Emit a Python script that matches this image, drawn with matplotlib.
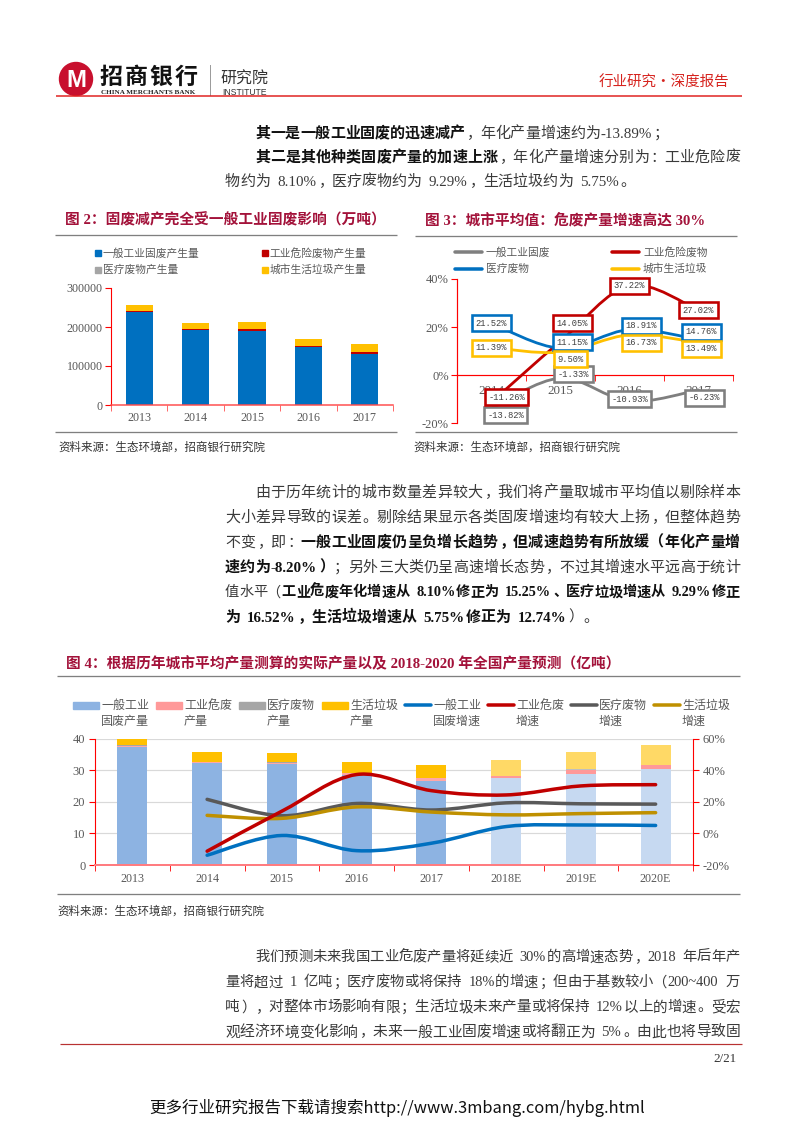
import numpy as np
import matplotlib
matplotlib.use('Agg')
import matplotlib.pyplot as plt
from matplotlib.path import Path
from matplotlib.patches import PathPatch, Rectangle, Circle

W, H, DPI = 793, 1122, 100
SERIF = ['Liberation Serif', 'Noto Sans CJK SC']
CJK = ['Noto Sans CJK SC', 'DejaVu Sans']
MONO = ['Liberation Mono', 'Noto Sans CJK SC']

# ---- 图2 数据 (万吨)
f2_years = ['2013', '2014', '2015', '2016', '2017']
f2_general = [238000, 192000, 191000, 148000, 131000]
f2_hazard = [2937, 2437, 2802, 3345, 4010]
f2_medical = [55, 62, 70, 72, 78]
f2_garbage = [16149, 16816, 18564, 18851, 20194]
f2_names = ['一般工业固废产生量', '工业危险废物产生量', '医疗废物产生量', '城市生活垃圾产生量']
f2_colors = ['#0070C0', '#C00000', '#A5A5A5', '#FFC000']

# ---- 图3 数据 (%)
f3_years = ['2014', '2015', '2016', '2017']
f3_general = [-13.82, -1.33, -10.93, -6.23]
f3_hazard = [-11.26, 14.05, 37.22, 27.02]
f3_medical = [21.52, 11.15, 18.91, 14.76]
f3_garbage = [11.39, 9.50, 16.73, 13.49]
f3_names = ['一般工业固废', '工业危险废物', '医疗废物', '城市生活垃圾']
f3_colors = ['#7F7F7F', '#C00000', '#0070C0', '#FFC000']

# ---- 图4 数据 (亿吨, %)
f4_years = ['2013', '2014', '2015', '2016', '2017', '2018E', '2019E', '2020E']
f4_general = [37.2, 32.1, 31.9, 28.6, 26.5, 27.5, 28.9, 30.2]
f4_hazard = [0.55, 0.5, 0.5, 0.5, 0.9, 0.75, 1.25, 1.5]
f4_medical = [0.05, 0.05, 0.05, 0.05, 0.05, 0.05, 0.06, 0.06]
f4_garbage = [2.9, 3.0, 2.9, 3.4, 4.1, 5.0, 5.6, 6.3]
f4_r_general = [-13.82, -1.33, -10.93, -6.23, 4.3, 5.3, 5.0]
f4_r_hazard = [-11.26, 14.05, 37.22, 27.02, 24.3, 30.0, 30.8]
f4_r_medical = [21.52, 11.15, 18.91, 14.76, 19.3, 18.7, 18.5]
f4_r_garbage = [11.39, 9.50, 16.73, 13.49, 11.7, 12.5, 13.1]
f4_legend = [('一般工业', '固废产量'), ('工业危废', '产量'), ('医疗废物', '产量'), ('生活垃圾', '产量'),
             ('一般工业', '固废增速'), ('工业危废', '增速'), ('医疗废物', '增速'), ('生活垃圾', '增速')]

source = '资料来源：生态环境部，招商银行研究院'

# ---- 正文
para1 = [
    (255, 132, [('其一是一般工业固废的迅速减产', True), ('，年化产量增速约为-13.89%；', False)], False),
    (255, 156, [('其二是其他种类固废产量的加速上涨', True), ('，年化产量增速分别为：工业危险废', False)], True),
    (225, 180, [('物约为 8.10%，医疗废物约为 9.29%，生活垃圾约为 5.75%。', False)], False),
]
para2 = [
    (255, 491, [('由于历年统计的城市数量差异较大，我们将产量取城市平均值以剔除样本', False)], True),
    (225, 516, [('大小差异导致的误差。剔除结果显示各类固废增速均有较大上扬，但整体趋势', False)], True),
    (225, 541, [('不变，即：', False), ('一般工业固废仍呈负增长趋势，但减速趋势有所放缓（年化产量增', True)], True),
    (225, 566, [('速约为-8.20%）', True), ('；另外三大类仍呈高速增长态势，不过其增速水平远高于统计', False)], True),
    (225, 591, [('值水平（', False), ('工业危废年化增速从 8.10%修正为 15.25%、医疗垃圾增速从 9.29%修正', True)], True),
    (225, 616, [('为 16.52%，生活垃圾增速从 5.75%修正为 12.74%', True), ('）。', False)], False),
]
para3 = [
    (255, 956, [('我们预测未来我国工业危废产量将延续近 30%的高增速态势，2018 年后年产', False)], True),
    (225, 981, [('量将超过 1 亿吨；医疗废物或将保持 18%的增速；但由于基数较小（200~400 万', False)], True),
    (225, 1006, [('吨），对整体市场影响有限；生活垃圾未来产量或将保持 12%以上的增速。受宏', False)], True),
    (225, 1031, [('观经济环境变化影响，未来一般工业固废增速或将翻正为 5%。由此也将导致固', False)], True),
]


def pt(p):
    return p * 72.0 / DPI


def box(l, t, r, b):
    return [l / W, 1 - b / H, (r - l) / W, (b - t) / H]


fig = plt.figure(figsize=(W / DPI, H / DPI), dpi=DPI)
fig.patch.set_facecolor('white')
ax0 = fig.add_axes([0, 0, 1, 1])
ax0.set_xlim(0, W)
ax0.set_ylim(H, 0)
ax0.axis('off')


def hline(x1, x2, y, color, lw):
    ax0.plot([x1, x2], [y, y], color=color, lw=pt(lw), solid_capstyle='butt')


# ---- 正文排版：中文逐字（全角），西文成段
LEFT_P = set('，。、；：！？）')
RIGHT_P = set('（')
EM = 15.0
ASCII_W = {'.': 0.25, '%': 0.833, '-': 0.333, '~': 0.541, '/': 0.278}
ASCII_WB = {'.': 0.25, '%': 1.0, '-': 0.333, '~': 0.581, '/': 0.278}


def tokens_of(runs, em):
    toks = []
    for s, b in runs:
        wt = ASCII_WB if b else ASCII_W
        buf = ''
        for c in s + '\0':
            if c != '\0' and ord(c) < 128 and c != ' ':
                buf += c
                continue
            if buf:
                toks.append((buf, b, (sum(wt.get(ch, 0.5) for ch in buf) + 0.06) * em))
                buf = ''
            if c == ' ':
                toks.append((' ', b, 0.45 * em))
            elif c != '\0':
                toks.append((c, b, em))
    return toks


def draw_line(x0, yc, runs, justify, right=740):
    em = EM
    toks = tokens_of(runs, em)
    nat = sum(t[2] for t in toks)
    if justify and nat > right - x0:
        em = EM * (right - x0) / nat
        toks = tokens_of(runs, em)
        nat = sum(t[2] for t in toks)
    gap = (right - x0 - nat) / (len(toks) - 1) if justify else 0
    x = x0
    base = yc + 0.37 * em
    for s, b, w in toks:
        if s != ' ':
            kw = dict(fontsize=pt(em), weight='bold' if b else 'normal',
                      color='#111111' if b else '#3a3a3a', va='baseline')
            if ord(s[0]) < 128:
                ax0.text(x + 0.02 * em, base, s, family=['Liberation Serif'], ha='left', **kw)
            elif s in LEFT_P:
                ax0.text(x + 0.1 * em, base, s, family=CJK, ha='left', **kw)
            elif s in RIGHT_P:
                ax0.text(x + w - 0.1 * em, base, s, family=CJK, ha='right', **kw)
            else:
                ax0.text(x + w / 2, base, s, family=CJK, ha='center', **kw)
        x += w + gap


for para in (para1, para2, para3):
    for x0, yc, runs, just in para:
        draw_line(x0, yc, runs, just)

# ---- 页眉
ax0.add_patch(Circle((76, 79), 16.5, color='#C8102E'))
ax0.text(76, 80, 'M', color='white', fontsize=pt(24), weight='bold', family=['Liberation Sans'],
         ha='center', va='center')
for i, c in enumerate('招商银行'):
    ax0.text(111 + 25 * i, 77, c, fontsize=pt(23), weight='heavy', family=CJK, ha='center', va='center',
             color='#111111')
ax0.text(101, 92.5, 'CHINA MERCHANTS BANK', fontsize=pt(7.2), weight='bold', family=['Liberation Serif'],
         ha='left', va='center', color='#222222')
ax0.plot([210, 210], [65, 95], color='#999999', lw=0.7)
ax0.text(220, 79, '研究院', fontsize=pt(16), family=CJK, ha='left', va='center', color='#333333')
ax0.text(222, 92.5, 'INSTITUTE', fontsize=pt(8.6), family=['Liberation Sans'], ha='left', va='center',
         color='#333333')
ax0.text(729, 83, '行业研究•深度报告', fontsize=pt(14.5), family=CJK, ha='right', va='center',
         color='#D6231E')
hline(56, 742, 96, '#E0201F', 1.5)

# ---- 页脚
hline(60, 742, 1044, '#B83232', 1.2)
ax0.text(737, 1059, '2/21', fontsize=pt(13), family=['Liberation Serif'], ha='right', va='center',
         color='#333333')
ax0.text(397, 1108, '更多行业研究报告下载请搜索http://www.3mbang.com/hybg.html', fontsize=pt(16.5),
         family=CJK, ha='center', va='center', color='#111111')

TITLE_C = '#A3123A'
GREY_T = '#595959'
TITLE_PX = 14.7


def smooth(ax, xs, ys, color, lw, z=3):
    pts = np.column_stack([xs, ys]).astype(float)
    verts = [pts[0]]
    codes = [Path.MOVETO]
    n = len(pts)
    for i in range(n - 1):
        p0 = pts[i - 1] if i > 0 else pts[i]
        p1, p2 = pts[i], pts[i + 1]
        p3 = pts[i + 2] if i + 2 < n else pts[i + 1]
        verts += [p1 + (p2 - p0) / 6, p2 - (p3 - p1) / 6, p2]
        codes += [Path.CURVE4] * 3
    ax.add_patch(PathPatch(Path(verts, codes), fill=False, edgecolor=color, lw=pt(lw),
                           capstyle='round', joinstyle='round', zorder=z))


# ================= 图2
ax0.text(65, 220, '图 2：固废减产完全受一般工业固废影响（万吨）', fontsize=pt(TITLE_PX), weight='bold',
         family=SERIF, color=TITLE_C, ha='left', va='center')
hline(55, 397, 235, '#7F7F7F', 1.3)
for i, (nm, col) in enumerate(zip(f2_names, f2_colors)):
    lx = 98 + 167 * (i % 2)
    ly = 253 + 17 * (i // 2)
    ax0.add_patch(Rectangle((lx - 3, ly - 3), 6, 6, color=col))
    ax0.text(lx + 5, ly, nm, fontsize=pt(10.7), family=CJK, color=GREY_T, ha='left', va='center')

axA = fig.add_axes(box(111, 288, 393, 405))
xa = np.arange(len(f2_years))
bot = np.zeros(len(xa))
for vals, col in zip([f2_general, f2_hazard, f2_medical, f2_garbage], f2_colors):
    axA.bar(xa, vals, width=0.48, bottom=bot, color=col, zorder=2)
    bot += np.array(vals, dtype=float)
axA.set_xlim(-0.5, len(xa) - 0.5)
axA.set_ylim(0, 300000)
axA.set_yticks([0, 100000, 200000, 300000], labels=['0', '100000', '200000', '300000'],
               fontfamily='Liberation Serif', fontsize=pt(12), color=GREY_T)
axA.set_xticks(xa, labels=f2_years, fontfamily='Liberation Serif', fontsize=pt(12), color=GREY_T)
axA.set_xticks(np.arange(-0.5, len(xa)), minor=True)
axA.tick_params(axis='x', which='major', length=0, pad=5)
axA.tick_params(axis='x', which='minor', length=4, color='#FF4D4D', direction='out')
axA.tick_params(axis='y', length=4, color='#FF0000', direction='out', pad=2)
for s in ('top', 'right'):
    axA.spines[s].set_visible(False)
axA.spines['left'].set_color('#FF0000')
axA.spines['bottom'].set_color('#FF4D4D')
axA.spines['bottom'].set_linewidth(pt(1.5))
axA.patch.set_alpha(0)
hline(55, 397, 432, '#7F7F7F', 1.3)
ax0.text(58, 447, source, fontsize=pt(11.5), family=CJK, color='#333333', ha='left', va='center')

# ================= 图3
ax0.text(425, 220, '图 3：城市平均值：危废产量增速高达 30%', fontsize=pt(TITLE_PX), weight='bold',
         family=SERIF, color=TITLE_C, ha='left', va='center')
hline(415, 737, 236, '#7F7F7F', 1.3)
for i, (nm, col) in enumerate(zip(f3_names, f3_colors)):
    lx = 455 + 157 * (i % 2)
    ly = 252 + 17 * (i // 2)
    ax0.plot([lx, lx + 27], [ly, ly], color=col, lw=pt(3.5), solid_capstyle='round')
    ax0.text(lx + 31, ly, nm, fontsize=pt(10.7), family=CJK, color=GREY_T, ha='left', va='center')

axC = fig.add_axes(box(457, 279, 733, 423))
axC.spines['bottom'].set_position(('data', 0))
xc = np.arange(len(f3_years))
for vals, col in zip([f3_general, f3_hazard, f3_medical, f3_garbage], f3_colors):
    smooth(axC, xc, vals, col, 2.8)
axC.set_xlim(-0.5, len(xc) - 0.5)
axC.set_ylim(-20, 40)
axC.set_yticks([-20, 0, 20, 40], labels=['-20%', '0%', '20%', '40%'], fontfamily='Liberation Serif',
               fontsize=pt(12.5), color=GREY_T)
axC.set_xticks(xc, labels=f3_years, fontfamily='Liberation Serif', fontsize=pt(13), color=GREY_T)
axC.set_xticks(np.arange(-0.5, len(xc)), minor=True)
axC.tick_params(axis='x', which='major', length=0, pad=7)
axC.tick_params(axis='x', which='minor', length=4, color='#FF0000', direction='out')
axC.tick_params(axis='y', length=4, color='#FF0000', direction='out', pad=2)
for s in ('top', 'right'):
    axC.spines[s].set_visible(False)
for s in ('left', 'bottom'):
    axC.spines[s].set_color('#FF0000')
    axC.spines[s].set_linewidth(pt(1.2))
axC.patch.set_alpha(0)

# 数据标签偏移 (像素)
f3_offsets = {
    0: [(14, -7), (13, 4), (0, 2), (6, -8)],
    1: [(15, 5), (12, 18), (0, 0), (0, 0)],
    2: [(0, 0), (12, 6), (12, 4), (3, 8)],
    3: [(0, 0), (10, -7), (12, -8), (3, -6)],
}
for k, (vals, col) in enumerate(zip([f3_general, f3_hazard, f3_medical, f3_garbage], f3_colors)):
    for i, v in enumerate(vals):
        dx, dy = f3_offsets[k][i]
        axC.annotate(f'{v:.2f}%', xy=(i, v), xytext=(dx, dy), textcoords='offset pixels',
                     ha='center', va='center', fontsize=pt(8.8), family=MONO, color='#404040',
                     bbox=dict(boxstyle='square,pad=0.4', fc='white', ec=col, lw=pt(2.6)),
                     zorder=6, annotation_clip=False)
hline(415, 737, 432, '#7F7F7F', 1.3)
ax0.text(413, 447, source, fontsize=pt(11.5), family=CJK, color='#333333', ha='left', va='center')

# ================= 图4
ax0.text(66, 663, '图 4：根据历年城市平均产量测算的实际产量以及 2018-2020 年全国产量预测（亿吨）',
         fontsize=pt(TITLE_PX), weight='bold', family=SERIF, color=TITLE_C, ha='left', va='center')
hline(57, 740, 676, '#7F7F7F', 1.3)

forecast = [y.endswith('E') for y in f4_years]
bar_cols = [
    ['#C6D9F1' if f else '#8DB3E2' for f in forecast],
    ['#FF9999' if f else '#FFA7A7' for f in forecast],
    ['#BFBFBF' if f else '#A6A6A6' for f in forecast],
    ['#FFD966' if f else '#FFC000' for f in forecast],
]
line_cols = ['#0070C0', '#C00000', '#595959', '#BF9000']
leg_cols = ['#8DB3E2', '#FF9999', '#A6A6A6', '#FFC000'] + line_cols
for i, ((t1, t2), col) in enumerate(zip(f4_legend, leg_cols)):
    lx = 73 + 83 * i
    if i < 4:
        ax0.add_patch(Rectangle((lx, 701.5), 26, 7, color=col))
    else:
        ax0.plot([lx, lx + 26], [705, 705], color=col, lw=pt(3.5), solid_capstyle='round')
    ax0.text(lx + 28, 705, t1, fontsize=pt(12), family=CJK, color=GREY_T, ha='left', va='center')
    ax0.text(lx + 28, 721, t2, fontsize=pt(12), family=CJK, color=GREY_T, ha='left', va='center')

axB = fig.add_axes(box(95, 738.5, 693, 865))
xb = np.arange(len(f4_years))
bot = np.zeros(len(xb))
for vals, cols in zip([f4_general, f4_hazard, f4_medical, f4_garbage], bar_cols):
    axB.bar(xb, vals, width=0.4, bottom=bot, color=cols, zorder=2)
    bot += np.array(vals, dtype=float)
axB.set_xlim(-0.5, len(xb) - 0.5)
axB.set_ylim(0, 40)
axB.set_axisbelow(True)
axB.yaxis.grid(True, color='#D9D9D9', lw=pt(1.2))
axB.set_yticks([0, 10, 20, 30, 40], labels=['0', '10', '20', '30', '40'], fontfamily='Liberation Serif',
               fontsize=pt(12.5), color=GREY_T)
axB.set_xticks(xb, labels=f4_years, fontfamily='Liberation Serif', fontsize=pt(12), color=GREY_T)
axB.set_xticks(np.arange(-0.5, len(xb)), minor=True)
axB.tick_params(axis='x', which='major', length=0, pad=6)
axB.tick_params(axis='x', which='minor', length=4, color='#FF0000', direction='out')
axB.tick_params(axis='y', length=4, color='#FF0000', direction='out', pad=3)
for s in ('top', 'right'):
    axB.spines[s].set_visible(False)
axB.spines['left'].set_color('#FF0000')
axB.spines['bottom'].set_color('#FF7C80')
axB.spines['bottom'].set_linewidth(pt(2))

axB2 = axB.twinx()
axB2.set_ylim(-20, 60)
xr = np.arange(1, len(xb))
for vals, col, z in zip([f4_r_general, f4_r_medical, f4_r_garbage, f4_r_hazard],
                        [line_cols[0], line_cols[2], line_cols[3], line_cols[1]], [3, 3, 3, 4]):
    smooth(axB2, xr, vals, col, 3.5, z)
axB2.set_yticks([-20, 0, 20, 40, 60], labels=['-20%', '0%', '20%', '40%', '60%'],
                fontfamily='Liberation Serif', fontsize=pt(12.5), color=GREY_T)
axB2.tick_params(axis='y', length=4, color='#FF0000', direction='out', pad=3)
for s in ('top', 'left', 'bottom'):
    axB2.spines[s].set_visible(False)
axB2.spines['right'].set_color('#FF0000')

hline(57, 740, 894, '#7F7F7F', 1.3)
ax0.text(57, 911, source, fontsize=pt(11.5), family=CJK, color='#333333', ha='left', va='center')

fig.savefig('out.png', dpi=DPI, facecolor='white')
